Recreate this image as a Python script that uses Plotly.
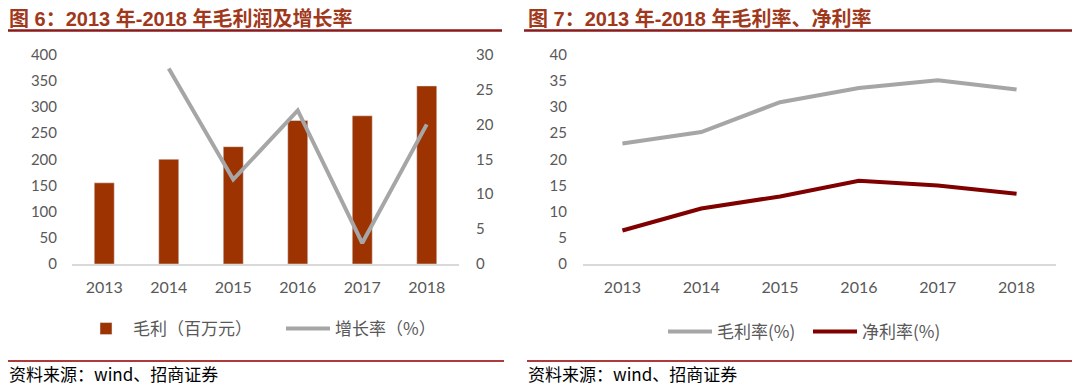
import plotly.graph_objects as go

years = ["2013", "2014", "2015", "2016", "2017", "2018"]
gross_profit = [155, 200, 224, 274, 283, 340]          # 毛利（百万元）
growth_rate = [None, 28, 12.1, 22, 3, 20]               # 增长率（%）
gross_margin = [23.0, 25.2, 30.9, 33.6, 35.1, 33.3]     # 毛利率(%)
net_margin = [6.4, 10.6, 12.9, 15.9, 15.0, 13.4]        # 净利率(%)

left_ticks = [0, 50, 100, 150, 200, 250, 300, 350, 400]
right_ticks = [0, 5, 10, 15, 20, 25, 30]
margin_ticks = [0, 5, 10, 15, 20, 25, 30, 35, 40]

title_left = "图 6：2013 年-2018 年毛利润及增长率"
title_right = "图 7：2013 年-2018 年毛利率、净利率"
source_text = "资料来源：wind、招商证券"

# page body has an 8px margin; the figure is sized to fill the rest of the window
OFF = 8
W, H = 1080 - OFF, 385 - OFF
BAR = "#9C3300"
GRAY = "#A6A6A6"
DARKRED = "#800000"
TICK = "#595959"
TITLE_C = "#A0381C"
RULE_C = "#8B1A1A"
FONT = "Lato, 'Noto Sans CJK SC', sans-serif"
CJK = "'Noto Sans CJK SC', 'Noto Sans', sans-serif"
TITLE_FONT = "'Liberation Sans', 'Noto Sans CJK SC', sans-serif"

def px(x):
    return (x - OFF) / W

def py(y):
    return 1 - (y - OFF) / H

fig = go.Figure()
fig.add_trace(go.Bar(x=years, y=gross_profit, name="毛利（百万元）", marker_color=BAR,
                     xaxis="x", yaxis="y", legend="legend"))
fig.add_trace(go.Scatter(x=years, y=growth_rate, name="增长率（%）", mode="lines",
                         line=dict(color=GRAY, width=4), xaxis="x", yaxis="y2",
                         legend="legend", connectgaps=False))
fig.add_trace(go.Scatter(x=years, y=gross_margin, name="毛利率(%)", mode="lines",
                         line=dict(color=GRAY, width=4), xaxis="x3", yaxis="y3",
                         legend="legend2"))
fig.add_trace(go.Scatter(x=years, y=net_margin, name="净利率(%)", mode="lines",
                         line=dict(color=DARKRED, width=4), xaxis="x3", yaxis="y3",
                         legend="legend2"))

ydom = [py(264), py(54.5)]
tickfont = dict(family=FONT, size=15, color=TICK)
xtickfont = dict(family=FONT, size=16, color=TICK)
cat_range = [-0.5, len(years) - 0.5]

common_x = dict(showline=True, linecolor="#D9D9D9", linewidth=1.5, showgrid=False,
                zeroline=False, ticks="", tickfont=xtickfont, ticklabelstandoff=8,
                fixedrange=True, automargin=False, range=cat_range, type="category")
common_y = dict(showline=False, showgrid=False, zeroline=False, ticks="",
                tickfont=tickfont, fixedrange=True, automargin=False)

shapes = []
shapes.append(dict(type="line", xref="paper", yref="paper", x0=px(8), x1=px(502),
                   y0=py(30.5), y1=py(30.5), line=dict(color=RULE_C, width=2.5)))
shapes.append(dict(type="line", xref="paper", yref="paper", x0=px(524), x1=px(1078),
                   y0=py(30.5), y1=py(30.5), line=dict(color=RULE_C, width=2.5)))
shapes.append(dict(type="line", xref="paper", yref="paper", x0=px(8), x1=px(504),
                   y0=py(361), y1=py(361), line=dict(color="#B03A3A", width=2)))
shapes.append(dict(type="line", xref="paper", yref="paper", x0=px(527), x1=px(1078),
                   y0=py(361), y1=py(361), line=dict(color="#B03A3A", width=2)))

annotations = [
    dict(text=f"<b>{title_left}</b>", xref="paper", yref="paper", x=px(8), y=py(19),
         xanchor="left", yanchor="middle", showarrow=False, borderpad=0,
         font=dict(family=TITLE_FONT, size=20, color=TITLE_C)),
    dict(text=f"<b>{title_right}</b>", xref="paper", yref="paper", x=px(527), y=py(19),
         xanchor="left", yanchor="middle", showarrow=False, borderpad=0,
         font=dict(family=TITLE_FONT, size=20, color=TITLE_C)),
    dict(text=source_text, xref="paper", yref="paper", x=px(8), y=py(373),
         xanchor="left", yanchor="middle", showarrow=False, borderpad=0,
         font=dict(family=CJK, size=17, color="#000000")),
    dict(text=source_text, xref="paper", yref="paper", x=px(527), y=py(373),
         xanchor="left", yanchor="middle", showarrow=False, borderpad=0,
         font=dict(family=CJK, size=17, color="#000000")),
]

legend_font = dict(family=CJK, size=17, color=TICK)

fig.update_layout(
    width=W, height=H,
    margin=dict(l=0, r=0, t=0, b=0, autoexpand=False),
    paper_bgcolor="white", plot_bgcolor="white",
    bargap=0.69,
    xaxis=dict(domain=[px(72), px(459)], anchor="y", **common_x),
    yaxis=dict(domain=ydom, range=[0, 400], tickvals=left_ticks, anchor="x",
               ticklabelstandoff=14, **common_y),
    yaxis2=dict(range=[0, 30], tickvals=right_ticks, overlaying="y", side="right",
                anchor="x", ticklabelstandoff=16, **common_y),
    xaxis3=dict(domain=[px(583), px(1056)], anchor="y3", **common_x),
    yaxis3=dict(domain=ydom, range=[0, 40], tickvals=margin_ticks, anchor="x3",
                ticklabelstandoff=15, **common_y),
    legend=dict(orientation="h", x=px(79), y=py(329), xanchor="left", yanchor="middle",
                font=legend_font, bgcolor="rgba(0,0,0,0)", traceorder="normal",
                itemwidth=44, entrywidth=143, entrywidthmode="pixels"),
    legend2=dict(orientation="h", x=px(663), y=py(332), xanchor="left", yanchor="middle",
                 font=legend_font, bgcolor="rgba(0,0,0,0)", traceorder="normal",
                 itemwidth=44, entrywidth=86, entrywidthmode="pixels"),
    shapes=shapes,
    annotations=annotations,
    showlegend=True,
)

fig.write_html("out.html")
